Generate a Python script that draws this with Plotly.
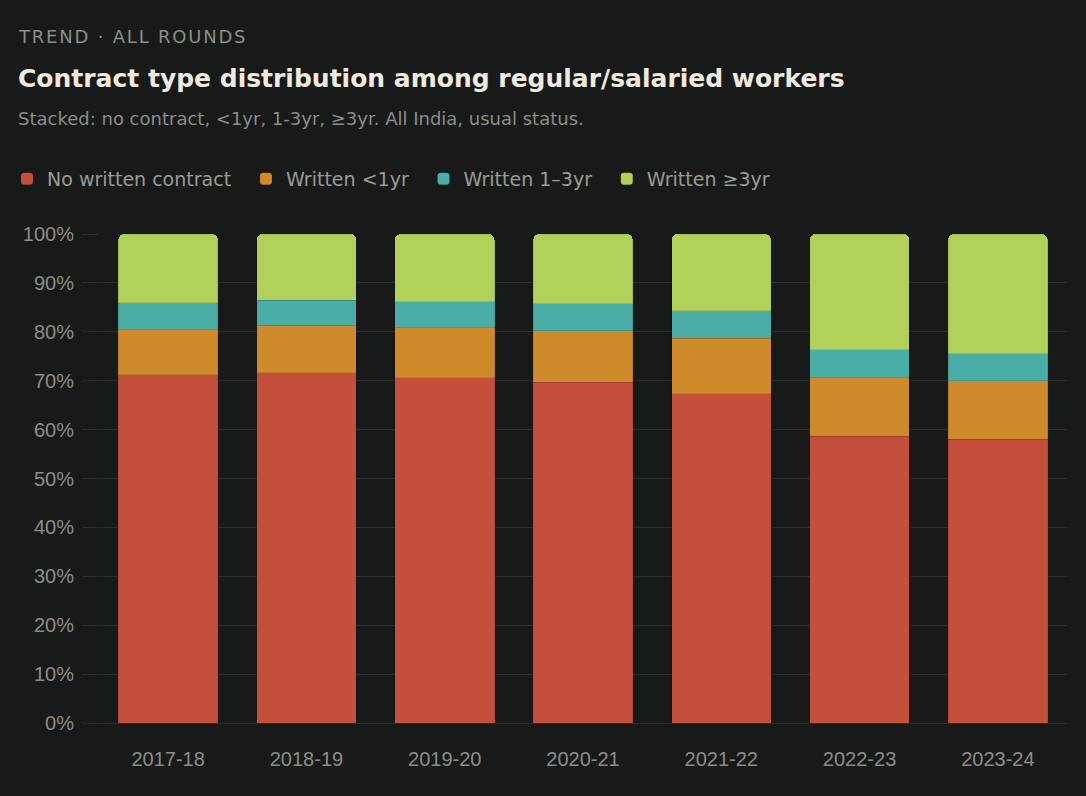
import plotly.graph_objects as go

rounds = ['2017-18', '2018-19', '2019-20', '2020-21', '2021-22', '2022-23', '2023-24']

# shares of regular/salaried workers, %
no_contract = [71.2, 71.6, 70.6, 69.7, 67.3, 58.6, 58.0]
under_1yr = [9.2, 9.7, 10.2, 10.5, 11.4, 12.0, 12.0]
yr_1_3 = [5.5, 5.2, 5.3, 5.5, 5.6, 5.7, 5.5]
over_3yr = [14.1, 13.5, 13.9, 14.3, 15.7, 23.7, 24.5]

series = [
    ('No written contract', no_contract, '#c4503b'),
    ('Written <1yr', under_1yr, '#cf8a2c'),
    ('Written 1–3yr', yr_1_3, '#4aaea6'),
    ('Written ≥3yr', over_3yr, '#b1d15a'),
]

BG = '#181a1a'
GRID = '#2b2d2d'
MUTED = '#8c8c88'
PAD = '\u00a0\u2009'  # a bit of extra room between legend entries

fig = go.Figure()
for name, vals, col in series:
    fig.add_trace(go.Bar(
        x=rounds, y=vals, name=name + PAD,
        marker=dict(color=col, line=dict(width=0.5, color='rgba(0,0,0,0.2)')),
        hovertemplate='%{x}: %{y:.1f}%<extra>' + name + '</extra>',
    ))

fig.update_layout(
    barmode='stack',
    bargap=0.28,
    barcornerradius=6,
    width=1086, height=796,
    paper_bgcolor=BG, plot_bgcolor=BG,
    margin=dict(l=99, r=19, t=234, b=73),
    font=dict(family='Liberation Sans, Arial, sans-serif', color=MUTED, size=20),
    legend=dict(
        orientation='h', xref='container', yref='container',
        x=7 / 1086, y=1 - 179 / 796, xanchor='left', yanchor='middle',
        font=dict(family='DejaVu Sans, sans-serif', size=19, color='#9a9a94'),
        itemwidth=30, traceorder='normal', bgcolor='rgba(0,0,0,0)',
    ),
    showlegend=True,
)

fig.update_xaxes(
    showgrid=False, showline=True, linecolor=GRID, linewidth=1,
    mirror=False, ticks='', ticklabelstandoff=18,
    tickfont=dict(size=20, color=MUTED),
)
fig.update_yaxes(
    range=[0, 100], dtick=10, ticksuffix='%',
    showgrid=True, gridcolor=GRID, gridwidth=1,
    zeroline=False, showline=False,
    ticks='outside', ticklen=16, tickcolor=GRID,
    ticklabelstandoff=4,
    tickfont=dict(size=20, color=MUTED),
)

head_x = (16 - 99) / 968
hs = '\u200a'
fig.add_annotation(
    text=hs.join('TREND · ALL ROUNDS'), xref='paper', yref='paper',
    x=head_x, y=(723 - 37) / 489, xanchor='left', yanchor='middle',
    showarrow=False, font=dict(family='DejaVu Sans, sans-serif', size=18, color=MUTED),
)
fig.add_annotation(
    text='<b>Contract type distribution among regular/salaried workers</b>',
    xref='paper', yref='paper',
    x=head_x, y=(723 - 79) / 489, xanchor='left', yanchor='middle',
    showarrow=False, font=dict(family='DejaVu Sans, sans-serif', size=25, color='#efeae0'),
)
fig.add_annotation(
    text='Stacked: no contract, <1yr, 1-3yr, ≥3yr. All India, usual status.',
    xref='paper', yref='paper',
    x=head_x, y=(723 - 119) / 489, xanchor='left', yanchor='middle',
    showarrow=False, font=dict(family='DejaVu Sans, sans-serif', size=18, color=MUTED),
)

fig.write_html('out.html', config={'displayModeBar': False},
               post_script="document.body.style.margin='0';")
